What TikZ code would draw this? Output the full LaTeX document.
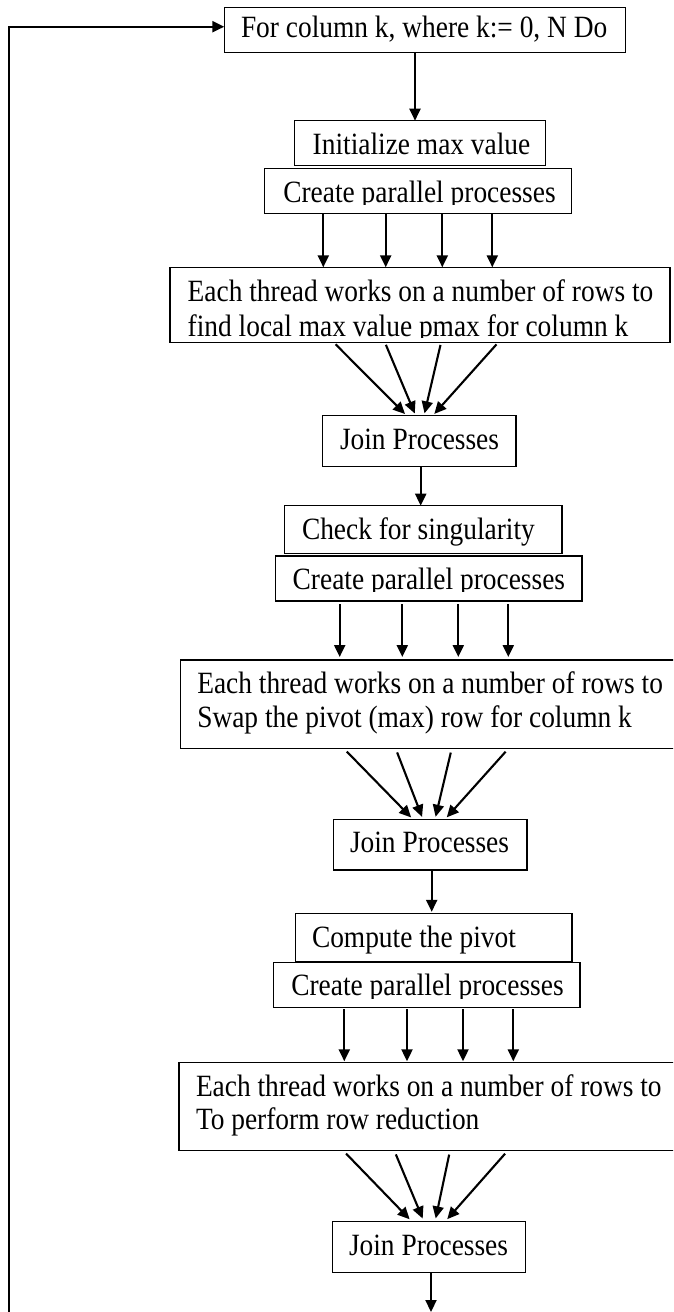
\documentclass[tikz,border=0pt]{standalone}
\usepackage{fontspec}
\setmainfont{Liberation Serif}
\usetikzlibrary{arrows.meta}
\newcommand\lblfont{\fontsize{27.4}{30}\selectfont}
\newcommand\tallt[1]{\scalebox{1}[1.13]{#1}}
\tikzset{
  box/.style={draw=black, line width=1.3pt, inner sep=0pt, outer sep=0pt},
  lbl/.style={inner sep=0pt, outer sep=0pt, anchor=base west, font=\lblfont, text=black},
  arr/.style={line width=2.1pt, -{Triangle[length=12pt,width=11pt]}},
  loopline/.style={line width=2.4pt, -{Triangle[length=12pt,width=11pt]}},
}
\begin{document}
\begin{tikzpicture}[x=1pt,y=-1pt]
\useasboundingbox (0,0) rectangle (673,1312);
\clip (0,0) rectangle (673,1312);
\fill[white] (0,0) rectangle (673,1312);

% boxes
\node[box, minimum width=401.4pt, minimum height=45.4pt] (b1) at (425,30) {};
\node[box, minimum width=251.4pt, minimum height=45pt] (b2) at (420,143.2) {};
\node[box, minimum width=307.4pt, minimum height=45pt] (b3) at (418,190.8) {};
\node[box, minimum width=500pt, minimum height=75.4pt] (b4) at (420,305) {};
\node[box, minimum width=193.3pt, minimum height=51pt] (b5) at (419.35,441.2) {};
\node[box, minimum width=277.3pt, minimum height=47.6pt] (b6) at (423.35,529.5) {};
\node[box, minimum width=306.7pt, minimum height=45pt] (b7) at (428.65,578.5) {};
\node[box, minimum width=509.7pt, minimum height=88.7pt] (b8) at (435.15,704.35) {};
\node[box, minimum width=193.7pt, minimum height=50.7pt] (b9) at (430.15,844.65) {};
\node[box, minimum width=276.7pt, minimum height=48pt] (b10) at (433.65,937.3) {};
\node[box, minimum width=306.3pt, minimum height=45pt] (b11) at (426.85,984.8) {};
\node[box, minimum width=511pt, minimum height=88.4pt] (b12) at (434.5,1106.5) {};
\node[box, minimum width=193.4pt, minimum height=50.6pt] (b13) at (429,1247) {};

% texts
\node[lbl] (t1) at (241,37.5) {\tallt{For column k, where k:= 0, N Do}};
\node[lbl] (t2) at (312.7,154) {\tallt{Initialize max value}};
\begin{scope}
  \clip (265,170) rectangle (570,204.3);
  \node[lbl] (t3) at (283.3,202.4) {\tallt{Create parallel processes}};
\end{scope}
\node[lbl] (t4a) at (187.7,301.5) {\tallt{Each thread works on a number of rows to}};
\begin{scope}
  \clip (172,310) rectangle (668,337);
  \node[lbl] (t4b) at (187.7,336) {\tallt{find local max value pmax for column k}};
\end{scope}
\node[lbl] (t5) at (340,449.3) {\tallt{Join Processes}};
\node[lbl] (t6) at (302,539.3) {\tallt{Check for singularity}};
\begin{scope}
  \clip (277,558) rectangle (580,591.5);
  \node[lbl] (t7) at (292.7,589.5) {\tallt{Create parallel processes}};
\end{scope}
\node[lbl] (t8a) at (197.3,693) {\tallt{Each thread works on a number of rows to}};
\node[lbl] (t8b) at (197.3,727.3) {\tallt{Swap the pivot (max) row for column k}};
\node[lbl] (t9) at (350,852.3) {\tallt{Join Processes}};
\node[lbl] (t10) at (312,947.3) {\tallt{Compute the pivot}};
\begin{scope}
  \clip (275,964) rectangle (578,998.3);
  \node[lbl] (t11) at (291.3,995.8) {\tallt{Create parallel processes}};
\end{scope}
\node[lbl] (t12a) at (196,1096) {\tallt{Each thread works on a number of rows to}};
\node[lbl] (t12b) at (196,1129.3) {\tallt{To perform row reduction}};
\node[lbl] (t13) at (349,1255) {\tallt{Join Processes}};

% loop back
\coordinate (loopstart) at (9,1320);
\draw[loopline] (loopstart) |- ([yshift=3.3pt]b1.west);

% straight arrows
\draw[arr] (415,0 |- b1.south) -- (415,0 |- b2.north);
\foreach \x in {323.3,385.7,442.3,492.3}
  \draw[arr] (\x,0 |- b3.south) -- (\x,0 |- b4.north);
\draw[arr] (420.7,0 |- b5.south) -- (420.7,0 |- b6.north);
\foreach \x in {339.7,402.3,458.3,508.3}
  \draw[arr, shorten <=3pt, shorten >=3pt] (\x,0 |- b7.south) -- (\x,0 |- b8.north);
\draw[arr, shorten >=1.5pt] (431.7,0 |- b9.south) -- (431.7,0 |- b10.north);
\foreach \x in {344.3,407,463,513.3}
  \draw[arr, shorten <=2pt, shorten >=1pt] (\x,0 |- b11.south) -- (\x,0 |- b12.north);
\coordinate (exit) at (431,1312);
\draw[arr] (431,0 |- b13.south) -- (exit);

% converging arrows
\foreach \a/\b in {334/406.7, 385/415.7, 441/424, 498/432.7}
  \draw[arr, shorten <=2.3pt, shorten >=2.4pt] (\a,0 |- b4.south) -- (\b,0 |- b5.north);
\foreach \a/\b in {344/413, 395.7/423, 451.7/435, 508.3/445}
  \draw[arr, shorten <=4pt, shorten >=2.6pt] (\a,0 |- b8.south) -- (\b,0 |- b9.north);
\foreach \a/\b in {343.3/412, 394.3/424, 450/435, 507.7/445}
  \draw[arr, shorten <=4pt, shorten >=3.4pt] (\a,0 |- b12.south) -- (\b,0 |- b13.north);
\end{tikzpicture}
\end{document}
